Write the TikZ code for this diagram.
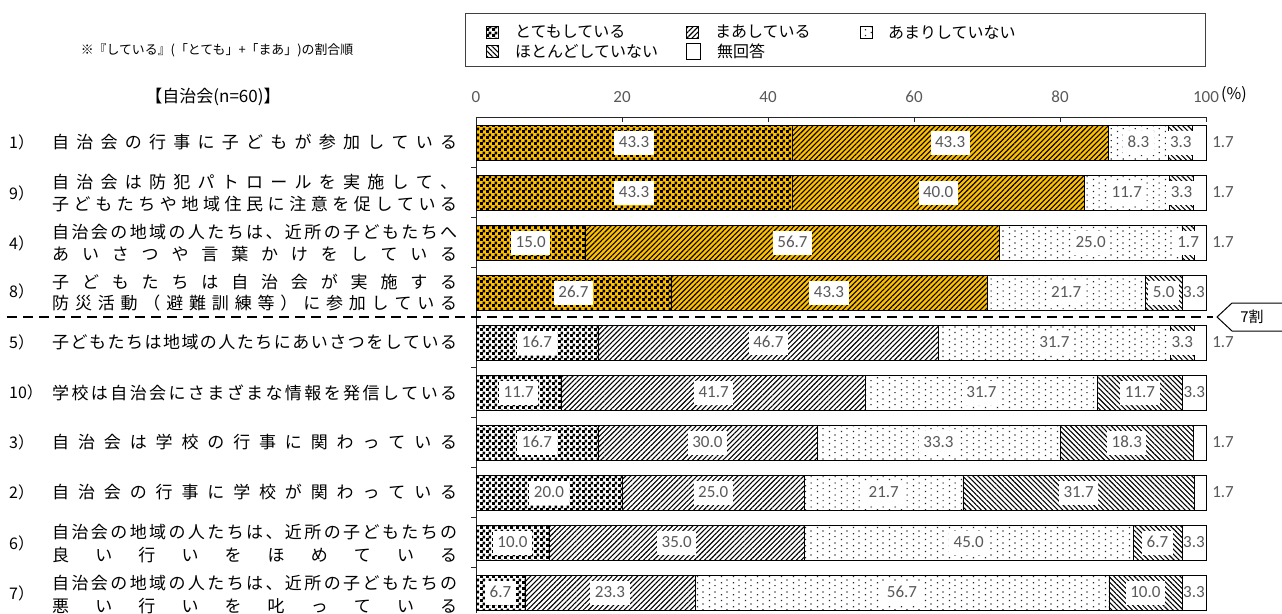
\documentclass[tikz,border=0pt]{standalone}
\usepackage{fontspec}
\setmainfont{Noto Sans CJK JP}
\newfontfamily\numfont{Carlito}
\usetikzlibrary{patterns.meta}
\definecolor{barorange}{HTML}{FFC000}
\definecolor{labgray}{HTML}{595959}

\pgfdeclarepattern{name=checkfine, type=uncolored,
  bottom left={\pgfpoint{0pt}{0pt}}, top right={\pgfpoint{6pt}{6pt}},
  tile size={\pgfpoint{6pt}{6pt}},
  code={\pgfpathrectangle{\pgfpoint{0pt}{0pt}}{\pgfpoint{3.4pt}{3.4pt}}%
        \pgfpathrectangle{\pgfpoint{3pt}{3pt}}{\pgfpoint{3pt}{3pt}}%
        \pgfusepath{fill}}}
\pgfdeclarepattern{name=sparsedots, type=uncolored,
  bottom left={\pgfpoint{0pt}{0pt}}, top right={\pgfpoint{12pt}{12pt}},
  tile size={\pgfpoint{12pt}{12pt}},
  code={\pgfpathrectangle{\pgfpoint{1pt}{1pt}}{\pgfpoint{1.3pt}{1.3pt}}%
        \pgfpathrectangle{\pgfpoint{1pt}{7pt}}{\pgfpoint{1.3pt}{1.3pt}}%
        \pgfpathrectangle{\pgfpoint{7pt}{4pt}}{\pgfpoint{1.3pt}{1.3pt}}%
        \pgfpathrectangle{\pgfpoint{7pt}{10pt}}{\pgfpoint{1.3pt}{1.3pt}}%
        \pgfusepath{fill}}}

\makeatletter
\def\spreadtext#1{\makebox[405pt][s]{\sp@first#1\relax}}
\def\sp@first#1{#1\sp@rest}
\def\sp@rest#1{\ifx\relax#1\else\hfill#1\expandafter\sp@rest\fi}
\makeatother

\tikzset{
  pA/.style={pattern=checkfine, pattern color=black},
  pB/.style={pattern={Lines[angle=45,distance=3.6pt,line width=1.1pt]}, pattern color=black},
  pC/.style={pattern=sparsedots, pattern color=black!85},
  pD/.style={pattern={Lines[angle=-45,distance=3.6pt,line width=1.1pt]}, pattern color=black},
  seg/.style={draw=black, line width=0.8pt},
  vlab/.style={fill=white, inner xsep=4.5pt, inner ysep=5pt, text height=11.5pt, text depth=2.5pt,
    text=labgray, font=\numfont\fontsize{17}{20}\selectfont},
  vlabplain/.style={vlab, fill=none, inner xsep=0pt},
  ticklab/.style={text=labgray, inner sep=0pt, font=\numfont\fontsize{17}{20}\selectfont},
  rowlab/.style={anchor=west, inner sep=0pt, font=\fontsize{17}{20}\selectfont},
  rownum/.style={anchor=west, inner sep=0pt, font=\fontsize{16}{19}\selectfont},
  legtext/.style={anchor=west, inner sep=0pt, font=\fontsize{16}{19}\selectfont},
  swatch/.style={draw=black, line width=0.6pt},
  axisline/.style={draw=black!85, line width=0.8pt},
  dashline/.style={draw=black, line width=2pt, dash pattern=on 10pt off 6pt},
}

\newcommand\barrow[8]{%
  \pgfmathsetmacro\yT{125+50*#1}%
  \pgfmathsetmacro\yB{\yT+35}%
  \pgfmathsetmacro\yM{\yT+17.5}%
  \pgfmathsetmacro\xA{476}%
  \pgfmathsetmacro\xB{476+7.3*#2}%
  \pgfmathsetmacro\xC{476+7.3*(#2+#3)}%
  \pgfmathsetmacro\xD{476+7.3*(#2+#3+#4)}%
  \pgfmathsetmacro\xE{476+7.3*(#2+#3+#4+#5)}%
  \pgfmathsetmacro\xF{1206}%
  \ifnum#7=1 \fill[barorange] (\xA,\yT) rectangle (\xC,\yB);\fi
  \fill[pA] (\xA,\yT) rectangle (\xB,\yB);
  \fill[pB] (\xB,\yT) rectangle (\xC,\yB);
  \fill[pC] (\xC,\yT) rectangle (\xD,\yB);
  \fill[pD] (\xD,\yT) rectangle (\xE,\yB);
  \draw[seg] (\xA,\yT) rectangle (\xB,\yB) (\xB,\yT) rectangle (\xC,\yB)
             (\xC,\yT) rectangle (\xD,\yB) (\xD,\yT) rectangle (\xE,\yB)
             (\xE,\yT) rectangle (\xF,\yB);
  \node[vlab] (v#1a) at ({(\xA+\xB)/2},\yM) {#2};
  \node[vlab] (v#1b) at ({(\xB+\xC)/2},\yM) {#3};
  \node[vlab] (v#1c) at ({(\xC+\xD)/2},\yM) {#4};
  \node[vlab] (v#1d) at ({(\xD+\xE)/2},\yM) {#5};
  \ifnum#8=1 \node[vlabplain] (v#1e) at (1223,\yM) {#6};%
  \else \node[vlabplain] (v#1e) at ({(\xE+\xF)/2},\yM) {#6};\fi
}

\begin{document}
\begin{tikzpicture}[x=1pt,y=-1pt]
\useasboundingbox (0,0) rectangle (1282,613);
\fill[white] (0,0) rectangle (1282,613);

% header texts
\node[inner sep=0pt, font=\fontsize{12.9}{15}\selectfont] (note) at (217,50) {※『している』(「とても」+「まあ」)の割合順};
\node[inner sep=0pt, font=\fontsize{17}{20}\selectfont] (grp) at (213,97) {【自治会(n=60)】};

% legend
\draw[draw=black!75, line width=1pt] (465,13) rectangle (1205,66);
\filldraw[swatch, pA] (486,26) rectangle (498,38);
\node[legtext] (lg1) at (515,32) {とてもしている};
\filldraw[swatch, pB] (686,26) rectangle (698,38);
\node[legtext] (lg2) at (715,32) {まあしている};
\filldraw[swatch, pC] (860,26) rectangle (872,38);
\node[legtext] (lg3) at (888,32) {あまりしていない};
\filldraw[swatch, pD] (486,45) rectangle (498,57);
\node[legtext] (lg4) at (515,51) {ほとんどしていない};
\draw[swatch] (686,43) rectangle (700,59);
\node[legtext] (lg5) at (717,51) {無回答};

% axis
\draw[axisline] (476,117) -- (1206,117);
\foreach \i in {0,...,5} {
  \draw[axisline] ({476+146*\i},117) -- ++(0,5);
  \pgfmathtruncatemacro\tv{20*\i}
  \node[ticklab] (t\i) at ({476+146*\i},97) {\tv};
}
\node[inner sep=0pt, font=\fontsize{16}{19}\selectfont] (pct) at (1234,95) {(\%)};
\draw[axisline] (476,117) -- (476,613);
\foreach \k in {1,...,9} {
  \draw[axisline] (471,{117.5+50*\k}) -- (476,{117.5+50*\k});
}

% bars
\barrow{0}{43.3}{43.3}{8.3}{3.3}{1.7}{1}{1}
\barrow{1}{43.3}{40.0}{11.7}{3.3}{1.7}{1}{1}
\barrow{2}{15.0}{56.7}{25.0}{1.7}{1.7}{1}{1}
\barrow{3}{26.7}{43.3}{21.7}{5.0}{3.3}{1}{0}
\barrow{4}{16.7}{46.7}{31.7}{3.3}{1.7}{0}{1}
\barrow{5}{11.7}{41.7}{31.7}{11.7}{3.3}{0}{0}
\barrow{6}{16.7}{30.0}{33.3}{18.3}{1.7}{0}{1}
\barrow{7}{20.0}{25.0}{21.7}{31.7}{1.7}{0}{1}
\barrow{8}{10.0}{35.0}{45.0}{6.7}{3.3}{0}{0}
\barrow{9}{6.7}{23.3}{56.7}{10.0}{3.3}{0}{0}

% row labels
\node[rownum] (n1) at (9,142.5) {1）};
\node[rowlab] (l1) at (52,142.5) {\spreadtext{自治会の行事に子どもが参加している}};
\node[rownum] (n9) at (9,193.5) {9）};
\node[rowlab] (l9a) at (52,182.5) {\spreadtext{自治会は防犯パトロールを実施して、}};
\node[rowlab] (l9b) at (52,204.5) {\spreadtext{子どもたちや地域住民に注意を促している}};
\node[rownum] (n4) at (9,243.5) {4）};
\node[rowlab] (l4a) at (52,232.5) {\spreadtext{自治会の地域の人たちは、近所の子どもたちへ}};
\node[rowlab] (l4b) at (52,254.5) {\spreadtext{あいさつや言葉かけをしている}};
\node[rownum] (n8) at (9,291.5) {8）};
\node[rowlab] (l8a) at (52,282.5) {\spreadtext{子どもたちは自治会が実施する}};
\node[rowlab] (l8b) at (52,303.5) {\spreadtext{防災活動（避難訓練等）に参加している}};
\node[rownum] (n5) at (9,342.5) {5）};
\node[rowlab] (l5) at (52,342.5) {\spreadtext{子どもたちは地域の人たちにあいさつをしている}};
\node[rownum] (n10) at (9,392.5) {10）};
\node[rowlab] (l10) at (52,392.5) {\spreadtext{学校は自治会にさまざまな情報を発信している}};
\node[rownum] (n3) at (9,442.5) {3）};
\node[rowlab] (l3) at (52,442.5) {\spreadtext{自治会は学校の行事に関わっている}};
\node[rownum] (n2) at (9,492.5) {2）};
\node[rowlab] (l2) at (52,492.5) {\spreadtext{自治会の行事に学校が関わっている}};
\node[rownum] (n6) at (9,543.5) {6）};
\node[rowlab] (l6a) at (52,532.5) {\spreadtext{自治会の地域の人たちは、近所の子どもたちの}};
\node[rowlab] (l6b) at (52,555) {\spreadtext{良い行いをほめている}};
\node[rownum] (n7) at (9,593.5) {7）};
\node[rowlab] (l7a) at (52,583.5) {\spreadtext{自治会の地域の人たちは、近所の子どもたちの}};
\node[rowlab] (l7b) at (52,606) {\spreadtext{悪い行いを叱っている}};

% 70% threshold line and callout
\coordinate (dashL) at (7,317);
\coordinate (tip) at (1217,317);
\draw[dashline] (dashL) -- ([xshift=-4pt]tip);
\draw[draw=black, line width=1pt, fill=white] (tip) -- (1232,303) -- (1290,303) -- (1290,331) -- (1232,331) -- cycle;
\node[inner sep=0pt, font=\fontsize{15}{18}\selectfont] (seven) at (1252,317) {7割};
\end{tikzpicture}
\end{document}
